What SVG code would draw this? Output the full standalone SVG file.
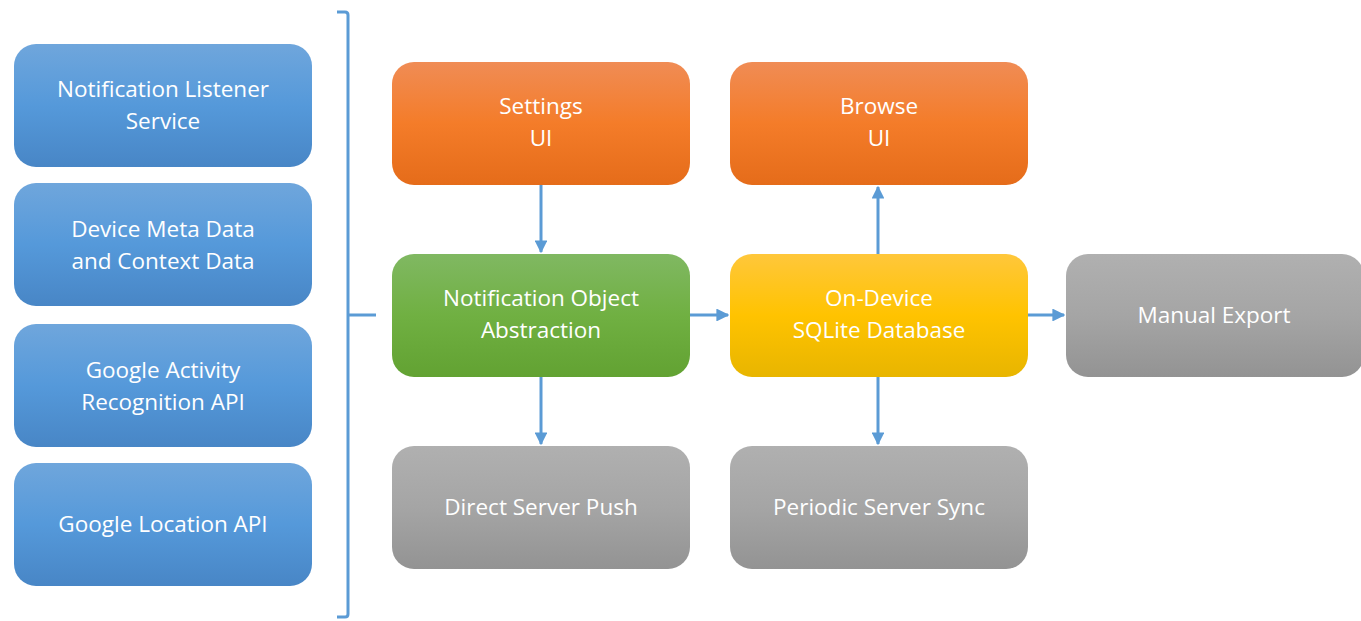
<svg xmlns="http://www.w3.org/2000/svg" width="1361" height="621" viewBox="0 0 1361 621">
<style>
text{font-family:"Open Sans","Liberation Sans",sans-serif;font-size:22.5px;fill:#ffffff;text-anchor:middle}
.conn{stroke:#5B9BD5;stroke-width:3;fill:none}
</style>
<defs>
<linearGradient id="gBlue" x1="0" y1="0" x2="0" y2="1"><stop offset="0" stop-color="#6FA6DC"/><stop offset="0.5" stop-color="#5599DA"/><stop offset="1" stop-color="#4886C6"/></linearGradient>
<linearGradient id="gOrange" x1="0" y1="0" x2="0" y2="1"><stop offset="0" stop-color="#F08C55"/><stop offset="0.5" stop-color="#F47C29"/><stop offset="1" stop-color="#E56C1A"/></linearGradient>
<linearGradient id="gGreen" x1="0" y1="0" x2="0" y2="1"><stop offset="0" stop-color="#80B862"/><stop offset="0.5" stop-color="#70B042"/><stop offset="1" stop-color="#62A232"/></linearGradient>
<linearGradient id="gYellow" x1="0" y1="0" x2="0" y2="1"><stop offset="0" stop-color="#FFC73B"/><stop offset="0.5" stop-color="#FFC300"/><stop offset="1" stop-color="#E8B500"/></linearGradient>
<linearGradient id="gGray" x1="0" y1="0" x2="0" y2="1"><stop offset="0" stop-color="#B0B0B0"/><stop offset="0.5" stop-color="#A5A5A5"/><stop offset="1" stop-color="#939393"/></linearGradient>
<marker id="arr" viewBox="0 0 10 10" refX="9" refY="5" markerWidth="4.3" markerHeight="4.3" orient="auto" markerUnits="strokeWidth"><path d="M0,0 L10,5 L0,10 z" fill="#5B9BD5"/></marker>
</defs>
<rect width="1361" height="621" fill="#ffffff"/>
<g id="n-listener"><rect x="14" y="44" width="298" height="123" rx="22" fill="url(#gBlue)"/><text x="163" y="97">Notification Listener</text><text x="163" y="129">Service</text></g>
<g id="n-device"><rect x="14" y="183" width="298" height="123" rx="22" fill="url(#gBlue)"/><text x="163" y="237">Device Meta Data</text><text x="163" y="269">and Context Data</text></g>
<g id="n-activity"><rect x="14" y="324" width="298" height="123" rx="22" fill="url(#gBlue)"/><text x="163" y="378">Google Activity</text><text x="163" y="410">Recognition API</text></g>
<g id="n-location"><rect x="14" y="463" width="298" height="123" rx="22" fill="url(#gBlue)"/><text x="163" y="532">Google Location API</text></g>
<g id="n-settings"><rect x="392" y="62" width="298" height="123" rx="22" fill="url(#gOrange)"/><text x="541" y="114">Settings</text><text x="541" y="146">UI</text></g>
<g id="n-browse"><rect x="730" y="62" width="298" height="123" rx="22" fill="url(#gOrange)"/><text x="879" y="114">Browse</text><text x="879" y="146">UI</text></g>
<g id="n-notif"><rect x="392" y="254" width="298" height="123" rx="22" fill="url(#gGreen)"/><text x="541" y="306">Notification Object</text><text x="541" y="338">Abstraction</text></g>
<g id="n-db"><rect x="730" y="254" width="298" height="123" rx="22" fill="url(#gYellow)"/><text x="879" y="306">On-Device</text><text x="879" y="338">SQLite Database</text></g>
<g id="n-export"><rect x="1066" y="254" width="298" height="123" rx="22" fill="url(#gGray)"/><text x="1214" y="323">Manual Export</text></g>
<g id="n-push"><rect x="392" y="446" width="298" height="123" rx="22" fill="url(#gGray)"/><text x="541" y="515">Direct Server Push</text></g>
<g id="n-sync"><rect x="730" y="446" width="298" height="123" rx="22" fill="url(#gGray)"/><text x="879" y="515">Periodic Server Sync</text></g>
<g id="connectors">
<path class="conn" d="M337,12 H345 Q348,12 348,15 V614 Q348,617 345,617 H337 M348,315 H376"/>
<line class="conn" x1="541" y1="185" x2="541" y2="252" marker-end="url(#arr)"/>
<line class="conn" x1="878" y1="254" x2="878" y2="187" marker-end="url(#arr)"/>
<line class="conn" x1="690" y1="315" x2="728" y2="315" marker-end="url(#arr)"/>
<line class="conn" x1="1028" y1="315" x2="1064" y2="315" marker-end="url(#arr)"/>
<line class="conn" x1="541" y1="377" x2="541" y2="444" marker-end="url(#arr)"/>
<line class="conn" x1="878" y1="377" x2="878" y2="444" marker-end="url(#arr)"/>
</g>
</svg>
